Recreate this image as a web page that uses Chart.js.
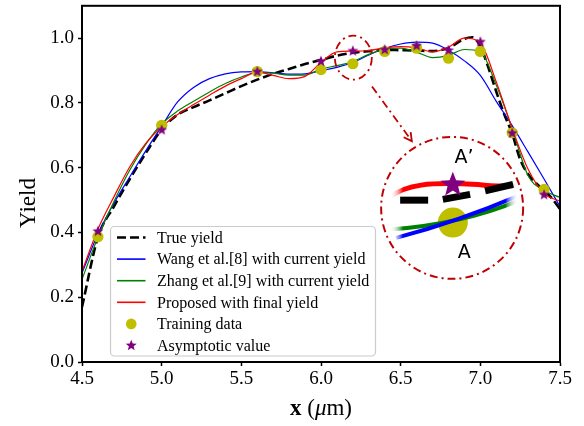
<!DOCTYPE html>
<html>
<head>
<meta charset="utf-8">
<script src="https://cdn.jsdelivr.net/npm/chart.js@4.4.0/dist/chart.umd.min.js"></script>
<style>
  html, body { margin: 0; padding: 0; background: #fff; }
</style>
</head>
<body>
<canvas id="chart" width="584" height="426"></canvas>
<script>
// x grid of the fitted curves (um)
const fitX = [4.5, 4.6, 4.7, 4.8, 4.9, 5.0, 5.1, 5.2, 5.3, 5.4, 5.5, 5.6, 5.7, 5.8, 5.9, 6.0,
  6.1, 6.2, 6.3, 6.4, 6.5, 6.6, 6.7, 6.8, 6.9, 7.0, 7.1, 7.2, 7.3, 7.4, 7.5];

const wangY = [0.275, 0.395, 0.49, 0.572, 0.652, 0.728, 0.803, 0.848, 0.875, 0.89, 0.896, 0.897, 0.893, 0.889, 0.89, 0.9,
  0.91, 0.925, 0.948, 0.968, 0.982, 0.988, 0.985, 0.963, 0.93, 0.885, 0.805, 0.73, 0.648, 0.565, 0.48];

const zhangY = [0.255, 0.385, 0.495, 0.593, 0.672, 0.735, 0.775, 0.805, 0.834, 0.86, 0.88, 0.894, 0.892, 0.886, 0.886, 0.905,
  0.915, 0.928, 0.95, 0.966, 0.969, 0.957, 0.94, 0.947, 0.965, 0.958, 0.855, 0.72, 0.575, 0.53, 0.508];

const proposedY = [0.28, 0.41, 0.51, 0.603, 0.675, 0.726, 0.764, 0.795, 0.824, 0.852, 0.875, 0.895, 0.885, 0.875, 0.882, 0.925,
  0.958, 0.96, 0.962, 0.97, 0.974, 0.97, 0.958, 0.972, 1.0, 0.985, 0.865, 0.722, 0.595, 0.52, 0.497];

// true yield
const trueX = [4.5, 4.6, 4.7, 4.8, 4.9, 5.0, 5.1, 5.2, 5.3, 5.4, 5.5, 5.6, 5.7, 5.8, 5.9, 6.0, 6.1, 6.2, 6.3, 6.4,
  6.5, 6.6, 6.7, 6.8, 6.9, 6.95, 7.0, 7.05, 7.1, 7.15, 7.2, 7.25, 7.3, 7.35, 7.4, 7.45, 7.5];
const trueY = [0.17, 0.385, 0.48, 0.565, 0.645, 0.718, 0.764, 0.787, 0.808, 0.83, 0.852, 0.872, 0.89, 0.905, 0.92, 0.933, 0.946, 0.955, 0.96, 0.964,
  0.963, 0.962, 0.96, 0.97, 0.998, 1.003, 0.975, 0.91, 0.835, 0.765, 0.705, 0.626, 0.58, 0.552, 0.53, 0.505, 0.472];

// samples
const sampleX = [4.6, 5.0, 5.6, 6.0, 6.2, 6.4, 6.6, 6.8, 7.0, 7.2, 7.4];
const trainY = [0.387, 0.731, 0.897, 0.903, 0.921, 0.959, 0.969, 0.938, 0.959, 0.708, 0.533];
const asymY = [0.405, 0.718, 0.898, 0.93, 0.962, 0.966, 0.978, 0.964, 0.99, 0.708, 0.518];

const xTicks = [4.5, 5.0, 5.5, 6.0, 6.5, 7.0, 7.5];
const yTicks = [0.0, 0.2, 0.4, 0.6, 0.8, 1.0];

// zoom annotation anchors (data units)
const zoomSpot = [6.203, 0.94];
const arrowFrom = [6.32, 0.851];
const arrowTo = [6.57, 0.682];
const insetCenter = [6.823, 0.476];

const serif = "'Liberation Serif', 'Times New Roman', serif";
const pts = (xs, ys) => xs.map((v, i) => ({ x: v, y: ys[i] }));

function starCanvas(rOut, rIn, color) {
  const c = document.createElement("canvas");
  const s = Math.ceil(rOut * 2 + 2);
  c.width = s; c.height = s;
  const g = c.getContext("2d");
  starPath(g, s / 2, s / 2 + rOut * 0.1, rOut, rIn);
  g.fillStyle = color;
  g.fill();
  return c;
}

function starPath(g, cx, cy, rOut, rIn) {
  g.beginPath();
  for (let i = 0; i < 10; i++) {
    const r = i % 2 ? rIn : rOut;
    const a = -Math.PI / 2 + i * Math.PI / 5;
    const px = cx + r * Math.cos(a), py = cy + r * Math.sin(a);
    i ? g.lineTo(px, py) : g.moveTo(px, py);
  }
  g.closePath();
}

const starImg = starCanvas(5.8, 2.5, "#800080");

const datasets = [
  { label: "True yield", data: pts(trueX, trueY), borderColor: "#000", borderWidth: 2.6,
    borderDash: [9, 4], pointRadius: 0, cubicInterpolationMode: "monotone", order: 5 },
  { label: "Wang et al.[8] with current yield", data: pts(fitX, wangY), borderColor: "#0000ff",
    borderWidth: 1.2, pointRadius: 0, cubicInterpolationMode: "monotone", order: 4 },
  { label: "Zhang et al.[9] with current yield", data: pts(fitX, zhangY), borderColor: "#008000",
    borderWidth: 1.2, pointRadius: 0, cubicInterpolationMode: "monotone", order: 3 },
  { label: "Proposed with final yield", data: pts(fitX, proposedY), borderColor: "#ff0000",
    borderWidth: 1.2, pointRadius: 0, cubicInterpolationMode: "monotone", order: 2 },
  { label: "Training data", data: pts(sampleX, trainY), showLine: false, pointStyle: "circle",
    pointRadius: 5.6, backgroundColor: "#bfbf00", borderWidth: 0, order: 1 },
  { label: "Asymptotic value", data: pts(sampleX, asymY), showLine: false, pointStyle: starImg,
    pointRadius: 5.8, backgroundColor: "#800080", borderWidth: 0, order: 0 },
];

// dashed-dotted zoom circle, arrow and the magnified inset
const insetPlugin = {
  id: "inset",
  afterDatasetsDraw(chart) {
    const { ctx } = chart;
    const sx = chart.scales.x, sy = chart.scales.y;
    const P = (d) => [sx.getPixelForValue(d[0]), sy.getPixelForValue(d[1])];
    const dark = "#c00000";
    ctx.save();
    ctx.strokeStyle = dark;
    ctx.lineWidth = 1.8;
    ctx.setLineDash([8, 4, 2, 4]);

    const [zx, zy] = P(zoomSpot);
    ctx.beginPath();
    ctx.ellipse(zx, zy, 18.5, 22, 0, 0, Math.PI * 2);
    ctx.stroke();

    const [ax, ay] = P(arrowFrom), [bx, by] = P(arrowTo);
    ctx.beginPath(); ctx.moveTo(ax, ay); ctx.lineTo(bx, by); ctx.stroke();
    ctx.setLineDash([]);
    const ang = Math.atan2(by - ay, bx - ax);
    ctx.beginPath();
    ctx.moveTo(bx - 9 * Math.cos(ang - 0.5), by - 9 * Math.sin(ang - 0.5));
    ctx.lineTo(bx, by);
    ctx.lineTo(bx - 9 * Math.cos(ang + 0.5), by - 9 * Math.sin(ang + 0.5));
    ctx.stroke();

    const [cx, cy] = P(insetCenter);
    ctx.setLineDash([8, 4, 2, 4]);
    ctx.lineWidth = 2;
    ctx.beginPath();
    ctx.arc(cx, cy, 71, 0, Math.PI * 2);
    ctx.stroke();
    ctx.setLineDash([]);

    const fade = (col) => {
      const g = ctx.createLinearGradient(cx - 62, 0, cx + 66, 0);
      g.addColorStop(0, "rgba(255,255,255,0)");
      g.addColorStop(0.1, col);
      g.addColorStop(0.9, col);
      g.addColorStop(1, "rgba(255,255,255,0)");
      return g;
    };

    // big training point
    ctx.fillStyle = "#bfbf00";
    ctx.beginPath(); ctx.arc(cx + 0.7, cy + 14.7, 15, 0, Math.PI * 2); ctx.fill();

    ctx.lineCap = "butt";
    ctx.lineWidth = 4;
    ctx.strokeStyle = fade("#008000");
    ctx.beginPath();
    ctx.moveTo(cx - 60, cy + 21.5);
    ctx.quadraticCurveTo(cx + 10, cy + 16, cx + 66, cy - 7);
    ctx.stroke();

    ctx.strokeStyle = fade("#0000ff");
    ctx.beginPath();
    ctx.moveTo(cx - 56, cy + 30);
    ctx.quadraticCurveTo(cx + 5, cy + 14, cx + 66, cy - 12);
    ctx.stroke();

    ctx.lineWidth = 5;
    ctx.strokeStyle = fade("#ff0000");
    ctx.beginPath();
    ctx.moveTo(cx - 62, cy - 11);
    ctx.bezierCurveTo(cx - 45, cy - 24, cx - 20, cy - 25, cx + 10, cy - 24);
    ctx.bezierCurveTo(cx + 35, cy - 23, cx + 45, cy - 21, cx + 64, cy - 22);
    ctx.stroke();

    ctx.strokeStyle = "#000";
    ctx.lineWidth = 7;
    [[-52, -7.7, -24, -7.7], [-9.3, -8.5, 18, -13.5], [33, -17, 61, -23.5]].forEach((d) => {
      ctx.beginPath(); ctx.moveTo(cx + d[0], cy + d[1]); ctx.lineTo(cx + d[2], cy + d[3]); ctx.stroke();
    });

    ctx.fillStyle = "#800080";
    starPath(ctx, cx + 0.7, cy - 23, 13, 5.6);
    ctx.fill();

    ctx.fillStyle = "#000";
    ctx.font = "19px 'DejaVu Sans', sans-serif";
    ctx.textAlign = "center";
    ctx.textBaseline = "middle";
    ctx.fillText("A\u2019", cx + 12, cy - 50);
    ctx.fillText("A", cx + 12, cy + 45);
    ctx.restore();
  },
};

// frame, legend and axis titles
const decorPlugin = {
  id: "decor",
  afterDraw(chart) {
    const { ctx, chartArea: a } = chart;
    ctx.save();
    ctx.strokeStyle = "#000";
    ctx.lineWidth = 2;
    ctx.strokeRect(a.left, a.top, a.right - a.left, a.bottom - a.top);

    // legend
    const bx = a.left + 28.5, by = a.bottom - 135.5, bw = 265, bh = 129.5;
    ctx.fillStyle = "rgba(255,255,255,0.85)";
    ctx.strokeStyle = "#cccccc";
    ctx.lineWidth = 1.2;
    ctx.beginPath();
    ctx.roundRect(bx, by, bw, bh, 4);
    ctx.fill();
    ctx.stroke();
    ctx.font = "16px " + serif;
    ctx.textBaseline = "middle";
    ctx.textAlign = "left";
    chart.data.datasets.forEach((ds, i) => {
      const ry = by + 11 + i * 21.6;
      const hx0 = bx + 6.5, hx1 = bx + 35;
      if (ds.showLine === false) {
        const mx = (hx0 + hx1) / 2;
        if (ds.pointStyle === "circle") {
          ctx.fillStyle = ds.backgroundColor;
          ctx.beginPath(); ctx.arc(mx, ry, 5.3, 0, Math.PI * 2); ctx.fill();
        } else {
          ctx.fillStyle = ds.backgroundColor;
          starPath(ctx, mx, ry, 5.8, 2.5);
          ctx.fill();
        }
      } else {
        ctx.strokeStyle = ds.borderColor;
        ctx.lineWidth = ds.borderWidth + (ds.borderDash ? 0 : 0.4);
        ctx.setLineDash(ds.borderDash || []);
        ctx.beginPath(); ctx.moveTo(hx0, ry); ctx.lineTo(hx1, ry); ctx.stroke();
        ctx.setLineDash([]);
      }
      ctx.fillStyle = "#000";
      ctx.fillText(ds.label, bx + 46.5, ry + 1);
    });

    // y title
    ctx.fillStyle = "#000";
    ctx.font = "23px " + serif;
    ctx.save();
    ctx.translate(29, 203);
    ctx.rotate(-Math.PI / 2);
    ctx.textAlign = "center";
    ctx.textBaseline = "middle";
    ctx.fillText("Yield", 0, 0);
    ctx.restore();

    // x title: bold x, italic mu
    const parts = [
      ["bold 23px " + serif, "x"],
      ["23px " + serif, " ("],
      ["italic 23px " + serif, "\u03bc"],
      ["23px " + serif, "m)"],
    ];
    let total = 0;
    parts.forEach((p) => { ctx.font = p[0]; total += ctx.measureText(p[1]).width; });
    let px = (a.left + a.right) / 2 - total / 2;
    ctx.textAlign = "left";
    ctx.textBaseline = "alphabetic";
    parts.forEach((p) => { ctx.font = p[0]; ctx.fillText(p[1], px, 415); px += ctx.measureText(p[1]).width; });
    ctx.restore();
  },
};

const tickFont = { family: serif, size: 19 };

new Chart(document.getElementById("chart"), {
  type: "line",
  data: { datasets },
  options: {
    responsive: false,
    animation: false,
    devicePixelRatio: 1,
    layout: { padding: { left: 0, top: 5, right: 24, bottom: 0 } },
    plugins: { legend: { display: false }, tooltip: { enabled: false } },
    scales: {
      x: {
        type: "linear",
        min: 4.5,
        max: 7.5,
        afterBuildTicks: (s) => { s.ticks = xTicks.map((v) => ({ value: v })); },
        afterFit: (s) => { s.height = 64; s.paddingLeft = 0; s.paddingRight = 0; },
        ticks: { color: "#000", font: tickFont, padding: 2, maxRotation: 0,
          callback: (v) => Number(v).toFixed(1) },
        grid: { drawOnChartArea: false, drawTicks: true, tickLength: 4, tickWidth: 1.5, tickColor: "#000" },
        border: { display: true, color: "#000", width: 2 },
      },
      y: {
        min: 0,
        max: 1.1,
        afterBuildTicks: (s) => { s.ticks = yTicks.map((v) => ({ value: v })); },
        afterFit: (s) => { s.width = 82; s.paddingTop = 0; s.paddingBottom = 0; },
        ticks: { color: "#000", font: tickFont, padding: 4,
          callback: (v) => Number(v).toFixed(1) },
        grid: { drawOnChartArea: false, drawTicks: true, tickLength: 4, tickWidth: 1.5, tickColor: "#000" },
        border: { display: true, color: "#000", width: 2 },
      },
    },
  },
  plugins: [insetPlugin, decorPlugin],
});
</script>
</body>
</html>
